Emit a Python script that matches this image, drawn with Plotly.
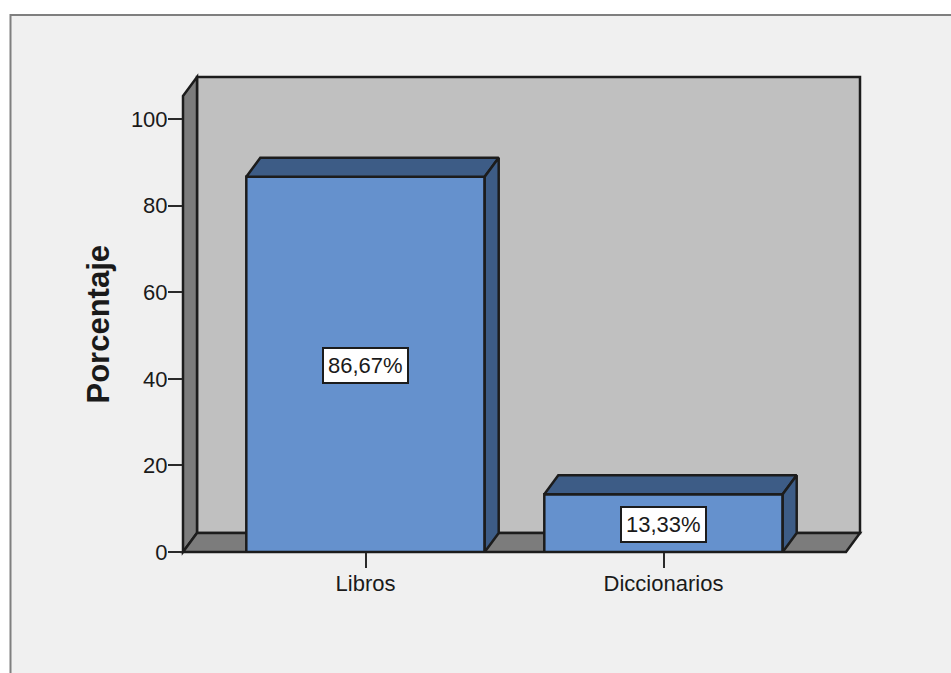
import plotly.graph_objects as go

# Data
categories = ["Libros", "Diccionarios"]
percentages = [86.67, 13.33]
data_labels = ["86,67%", "13,33%"]
y_ticks = [0, 20, 40, 60, 80, 100]
y_title = "Porcentaje"

# Canvas / style
W, H = 951, 673
PX_L, PX_R, PX_T, PX_B = 183, 860, 77, 552
PX_PER_UNIT = 4.33
PX_PER_CAT = 298
CENTER0 = 365.5
DEPTH_X = 14 / PX_PER_CAT
DEPTH_Y = 19 / PX_PER_UNIT
BAR_W = 0.8
FRONT = "#6591cd"
SIDE = "#3d5c86"
WALL = "#7c7c7c"
BACK = "#c0c0c0"
EDGE = "#1c1c1c"
TXT = "#1a1a1a"
FONT = "Liberation Sans"
FS = 22
LW = 2.5


def px(x):
    return x / W


def py(y):
    return 1 - y / H


def poly(points):
    return "M " + " L ".join(f"{px(a)},{py(b)}" for a, b in points) + " Z"


def paper_shape(points, fill, line=EDGE, width=LW, layer="below"):
    return dict(type="path", xref="paper", yref="paper", path=poly(points),
                fillcolor=fill, line=dict(color=line, width=width), layer=layer)


dpx, dpy = 14, 19
shapes = [
    # outer frame
    paper_shape([(10.5, 15), (970, 15), (970, 700), (10.5, 700)], "#f0f0f0", "#7f7f7f", 2),
    # back wall
    paper_shape([(PX_L + dpx, PX_T), (PX_R, PX_T), (PX_R, PX_B - dpy), (PX_L + dpx, PX_B - dpy)], BACK),
    # left wall
    paper_shape([(PX_L, PX_T + dpy), (PX_L + dpx, PX_T), (PX_L + dpx, PX_B - dpy), (PX_L, PX_B)], WALL),
    # floor
    paper_shape([(PX_L, PX_B), (PX_L + dpx, PX_B - dpy), (PX_R, PX_B - dpy), (PX_R - dpx, PX_B)], WALL),
]

fig = go.Figure()
xpos = list(range(len(categories)))
fig.add_trace(go.Bar(x=xpos, y=percentages, width=BAR_W, marker=dict(color=FRONT, line=dict(color=EDGE, width=LW)),
                     hoverinfo="skip"))

for x, v in zip(xpos, percentages):
    l, r = x - BAR_W / 2, x + BAR_W / 2
    top_x = [l, r, r + DEPTH_X, l + DEPTH_X, l]
    top_y = [v, v, v + DEPTH_Y, v + DEPTH_Y, v]
    side_x = [r, r, r + DEPTH_X, r + DEPTH_X, r]
    side_y = [0, v, v + DEPTH_Y, DEPTH_Y, 0]
    for xs, ys in ((top_x, top_y), (side_x, side_y)):
        fig.add_trace(go.Scatter(x=xs, y=ys, mode="lines", fill="toself", fillcolor=SIDE,
                                 line=dict(color=EDGE, width=LW), cliponaxis=False, hoverinfo="skip"))

annotations = [
    dict(x=x, y=v / 2, xref="x", yref="y", yshift=-1, text=t, showarrow=False, bgcolor="white",
         bordercolor=EDGE, borderwidth=2, borderpad=4, font=dict(family=FONT, size=FS, color=TXT))
    for x, v, t in zip(xpos, percentages, data_labels)
]
annotations.append(dict(x=px(97.5), y=py(324), xref="paper", yref="paper", xanchor="center", yanchor="middle",
                        text=f"<b>{y_title}</b>", textangle=-90, showarrow=False,
                        font=dict(family=FONT, size=31, color=TXT)))

fig.update_layout(
    width=W, height=H, margin=dict(l=0, r=0, t=0, b=0, autoexpand=False), paper_bgcolor="white",
    plot_bgcolor="rgba(0,0,0,0)",
    showlegend=False, shapes=shapes, annotations=annotations, font=dict(family=FONT, color=TXT, size=FS),
    xaxis=dict(domain=[px(PX_L), px(PX_R)], range=[(PX_L - CENTER0) / PX_PER_CAT, (PX_R - CENTER0) / PX_PER_CAT],
               tickmode="array", tickvals=xpos, ticktext=categories, ticks="outside", ticklen=15, tickwidth=2,
               tickcolor="#2a2a2a", showgrid=False, zeroline=False, showline=False, tickfont=dict(size=FS),
               ticklabelstandoff=-3, automargin=False),
    yaxis=dict(domain=[py(PX_B), py(PX_T)], range=[0, (PX_B - PX_T) / PX_PER_UNIT], tickmode="array",
               tickvals=y_ticks, ticks="outside", ticklen=14, tickwidth=2, tickcolor="#2a2a2a", showgrid=False,
               zeroline=False, showline=False, tickfont=dict(size=FS), ticklabelstandoff=-4, automargin=False),
)

fig.write_html("out.html", post_script="document.body.style.margin='0';document.body.style.overflow='hidden';",
               config={"displayModeBar": False})
